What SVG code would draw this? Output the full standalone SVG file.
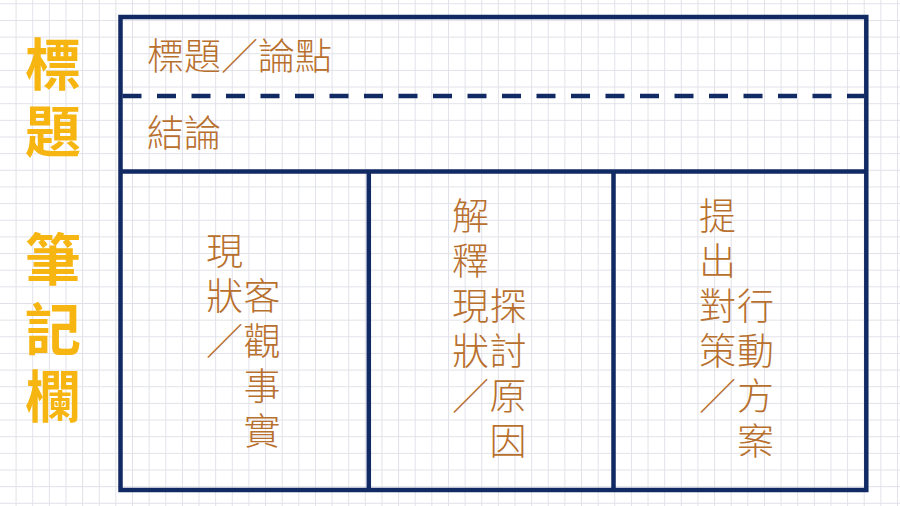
<svg xmlns="http://www.w3.org/2000/svg" width="900" height="506" viewBox="0 0 900 506">
  <defs>
    <pattern id="grid" patternUnits="userSpaceOnUse" x="15.6" y="3.3" width="16.63" height="16.65">
      <path d="M0.5 0 V16.65 M0 0.5 H16.63" fill="none" stroke="#e1e2e9" stroke-width="1"/>
    </pattern>
    <style>
      .frame { fill: none; stroke: #112a63; stroke-width: 4.5; }
      .dash { stroke: #112a63; stroke-width: 4.5; stroke-dasharray: 19 15.5; }
      .txt { font-family: "Liberation Sans", "Noto Sans CJK TC", "Noto Sans CJK SC", sans-serif; font-size: 37px; font-weight: 300; fill: #b8702e; }
      .side { font-family: "Liberation Sans", "Noto Sans CJK TC", "Noto Sans CJK SC", serif; font-size: 56px; font-weight: 700; fill: #f6b511; }
    </style>
  </defs>
  <rect width="900" height="506" fill="#ffffff"/>
  <rect width="900" height="506" fill="url(#grid)"/>

  <g id="side-label">
    <text class="side"><tspan x="25" y="85">標</tspan><tspan x="25" y="152">題</tspan><tspan x="25" y="280">筆</tspan><tspan x="25" y="350">記</tspan><tspan x="25" y="417">欄</tspan></text>
  </g>

  <g id="connectors">
    <rect class="frame" x="120.5" y="17" width="745.8" height="473"/>
    <line class="dash" x1="122.5" y1="96" x2="864" y2="96"/>
    <line class="frame" x1="120.5" y1="171.5" x2="866.3" y2="171.5"/>
    <line class="frame" x1="368.8" y1="171.5" x2="368.8" y2="490"/>
    <line class="frame" x1="613.5" y1="171.5" x2="613.5" y2="490"/>
  </g>

  <g id="title-cell">
    <text class="txt" x="147" y="70">標題／論點</text>
  </g>

  <g id="conclusion-cell">
    <text class="txt" x="147" y="147">結論</text>
  </g>

  <g id="column-facts">
    <text class="txt"><tspan x="206" y="265">現</tspan><tspan x="206" y="310">狀</tspan><tspan x="206" y="355">／</tspan><tspan x="243.5" y="310">客</tspan><tspan x="243.5" y="355">觀</tspan><tspan x="243.5" y="400">事</tspan><tspan x="243.5" y="445">實</tspan></text>
  </g>

  <g id="column-causes">
    <text class="txt"><tspan x="452" y="230">解</tspan><tspan x="452" y="275">釋</tspan><tspan x="452" y="320">現</tspan><tspan x="452" y="365">狀</tspan><tspan x="452" y="410">／</tspan><tspan x="489.5" y="320">探</tspan><tspan x="489.5" y="365">討</tspan><tspan x="489.5" y="410">原</tspan><tspan x="489.5" y="455">因</tspan></text>
  </g>

  <g id="column-actions">
    <text class="txt"><tspan x="699" y="230">提</tspan><tspan x="699" y="275">出</tspan><tspan x="699" y="320">對</tspan><tspan x="699" y="365">策</tspan><tspan x="699" y="410">／</tspan><tspan x="737" y="320">行</tspan><tspan x="737" y="365">動</tspan><tspan x="737" y="410">方</tspan><tspan x="737" y="455">案</tspan></text>
  </g>
</svg>
